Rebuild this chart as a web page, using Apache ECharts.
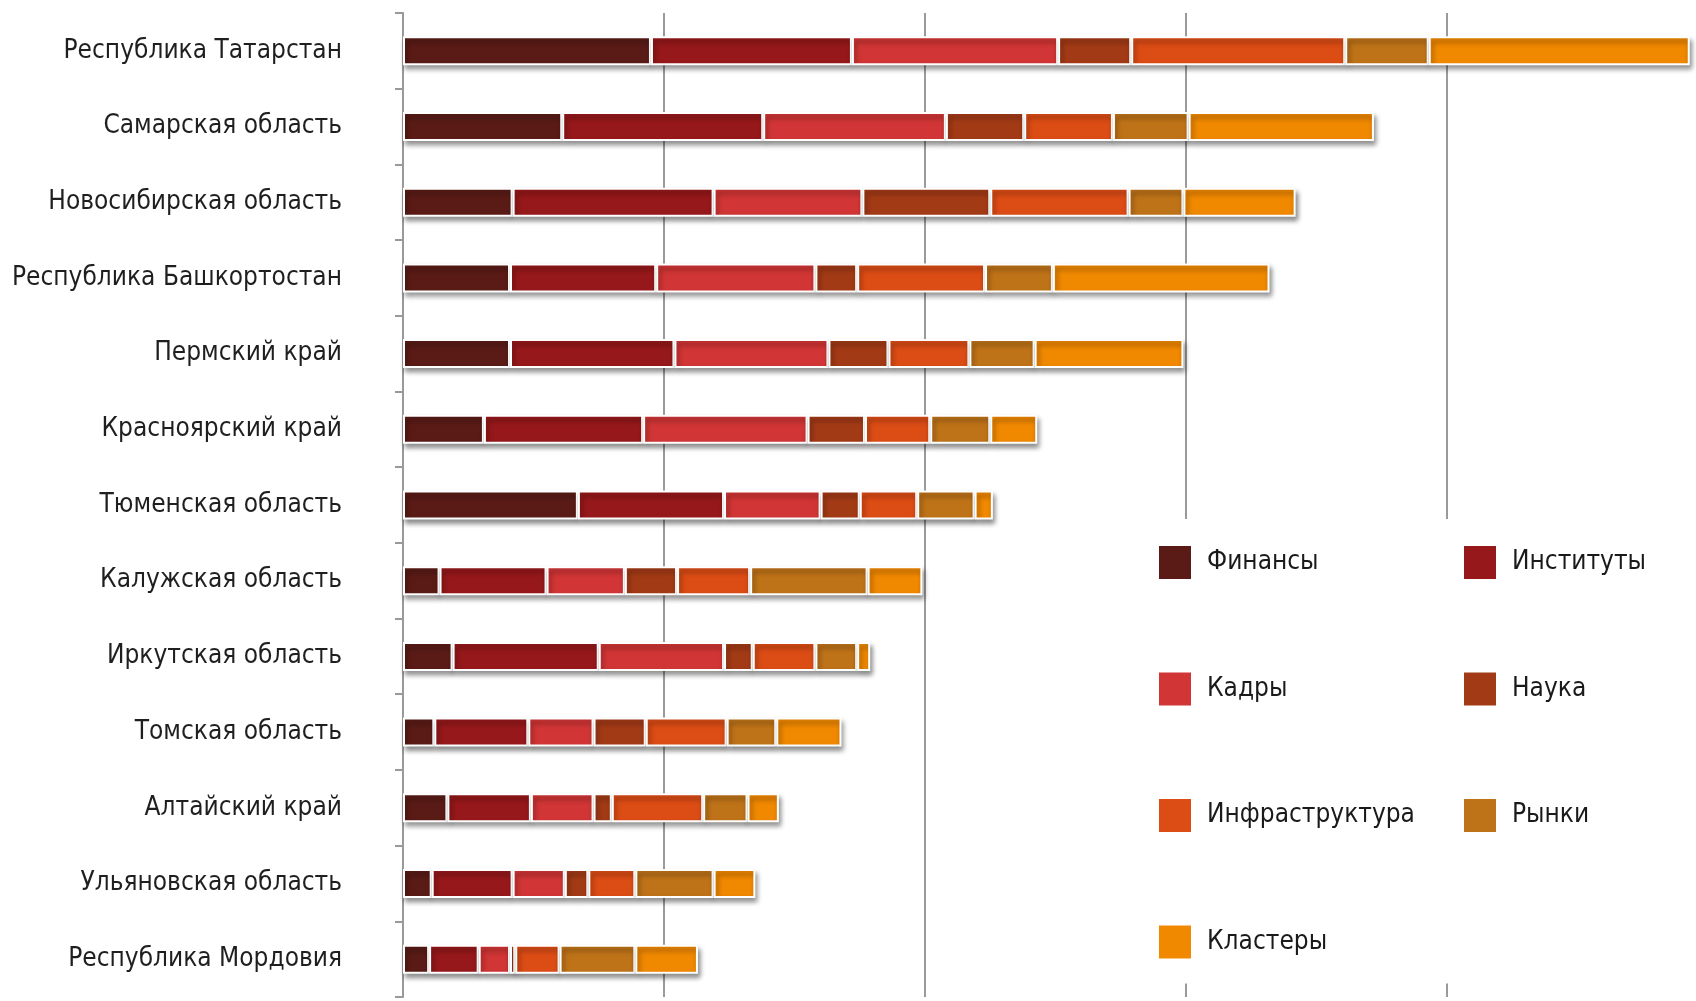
<!DOCTYPE html>
<html>
<head>
<meta charset="utf-8">
<script src="https://cdn.jsdelivr.net/npm/echarts@6/dist/echarts.min.js"></script>
<style>
html,body{margin:0;padding:0;background:#fff;}
#chart{width:1696px;height:1001px;}
</style>
</head>
<body>
<div id="chart"></div>
<script>
const categories = ['Республика Татарстан','Самарская область','Новосибирская область','Республика Башкортостан','Пермский край','Красноярский край','Тюменская область','Калужская область','Иркутская область','Томская область','Алтайский край','Ульяновская область','Республика Мордовия'];
const seriesNames = ['Финансы','Институты','Кадры','Наука','Инфраструктура','Рынки','Кластеры'];
const finance    = [0.95,0.61,0.42,0.41,0.41,0.31,0.67,0.14,0.19,0.12,0.17,0.11,0.10];
const institutes = [0.77,0.77,0.77,0.56,0.63,0.61,0.56,0.41,0.56,0.36,0.32,0.31,0.19];
const kadry      = [0.79,0.70,0.57,0.61,0.59,0.63,0.37,0.30,0.48,0.25,0.24,0.20,0.12];
const nauka      = [0.28,0.30,0.49,0.16,0.23,0.22,0.15,0.20,0.11,0.20,0.07,0.09,0.02];
const infra      = [0.82,0.34,0.53,0.49,0.31,0.25,0.22,0.28,0.24,0.31,0.35,0.18,0.17];
const rynki      = [0.32,0.29,0.21,0.26,0.25,0.23,0.22,0.45,0.16,0.19,0.17,0.30,0.29];
const clusters   = [1.00,0.71,0.43,0.83,0.57,0.18,0.07,0.21,0.05,0.25,0.12,0.16,0.24];
const colors = ['#5A1B16','#96181A','#D13535','#A33A16','#DC4C15','#BF7318','#F08800'];

const allData = [finance, institutes, kadry, nauka, infra, rynki, clusters];

const FONT = "'DejaVu Sans Condensed','DejaVu Sans',sans-serif";
const chart = echarts.init(document.getElementById('chart'), null, {renderer:'canvas'});
const legendText = {fontFamily:FONT, fontSize:26, color:'#1a1a1a', padding:[12,0,0,10]};
const option = {
  animation:false,
  backgroundColor:'#fff',
  grid:{left:403, top:13, width:1305, height:984, outerBoundsMode:'none', containLabel:false},
  xAxis:{type:'value', min:0, max:5, interval:1,
    axisLine:{show:false}, axisTick:{show:false}, axisLabel:{show:false},
    splitLine:{show:true, lineStyle:{color:'#9a9a9a', width:2}}},
  yAxis:{type:'category', data:categories, inverse:true,
    axisLine:{show:true, lineStyle:{color:'#999', width:2}},
    axisTick:{show:true, length:8, lineStyle:{color:'#999', width:2}},
    axisLabel:{margin:61, fontFamily:FONT, fontSize:26, color:'#1f1f1f', padding:[6,0,0,0]}},
  legend:[
    {orient:'vertical', left:1132, top:519, itemWidth:34, itemHeight:35, itemGap:89.5,
     padding:[25,40,23,25], backgroundColor:'#fff', icon:'rect',
     data:[seriesNames[0],seriesNames[2],seriesNames[4],seriesNames[6]], textStyle:legendText},
    {orient:'vertical', left:1437, top:519, itemWidth:34, itemHeight:35, itemGap:89.5,
     padding:[25,200,148,25], backgroundColor:'#fff', icon:'rect',
     data:[seriesNames[1],seriesNames[3],seriesNames[5]], textStyle:legendText}
  ],
  series: seriesNames.map((n,i)=>({
    name:n, type:'bar', stack:'total', barWidth:29, data:allData[i],
    itemStyle:{color:colors[i], borderColor:'#fff', borderWidth:2,
      shadowColor:'rgba(0,0,0,0.45)', shadowBlur:5, shadowOffsetY:4, shadowOffsetX:2}
  }))
};
chart.setOption(option);
</script>
</body>
</html>
